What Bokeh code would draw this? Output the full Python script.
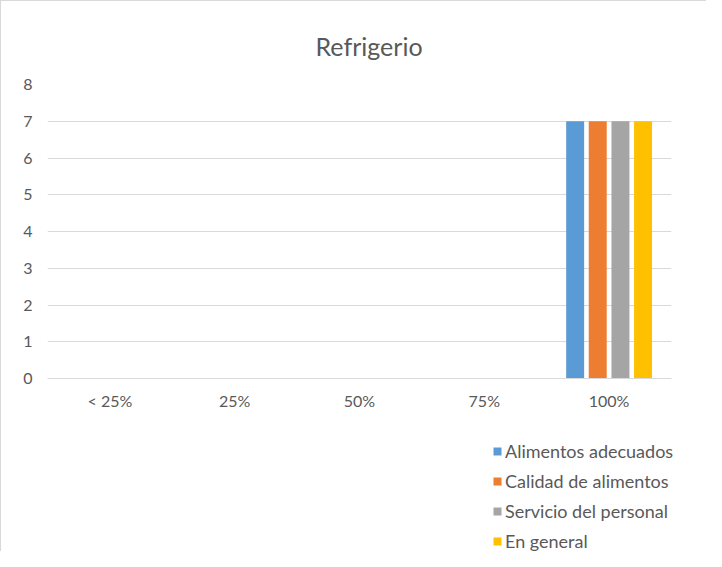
from bokeh.plotting import figure
from bokeh.models import ColumnDataSource, FactorRange, Range1d, Legend, LegendItem, FixedTicker
from bokeh.layouts import column
from bokeh.transform import dodge
from bokeh.embed import file_html
from bokeh.resources import INLINE

categories = ["< 25%", "25%", "50%", "75%", "100%"]
alimentos_adecuados = [0, 0, 0, 0, 7]
calidad_de_alimentos = [0, 0, 0, 0, 7]
servicio_del_personal = [0, 0, 0, 0, 7]
en_general = [0, 0, 0, 0, 7]
series_names = ["Alimentos adecuados", "Calidad de alimentos", "Servicio del personal", "En general"]
y_ticks = [0, 1, 2, 3, 4, 5, 6, 7, 8]

colors = ["#5B9BD5", "#ED7D31", "#A5A5A5", "#FFC000"]
FONT = "Lato"
TXT = "#595959"
GRID = "#d9d9d9"

source = ColumnDataSource(data=dict(
    cat=categories,
    s0=alimentos_adecuados,
    s1=calidad_de_alimentos,
    s2=servicio_del_personal,
    s3=en_general,
))
cols = ["s0", "s1", "s2", "s3"]

# main chart
p = figure(x_range=FactorRange(*categories), y_range=Range1d(0, 8),
           width=706, height=428, output_backend="svg", toolbar_location=None,
           min_border_left=46, min_border_right=36, min_border_top=83, min_border_bottom=51)
p.styles = {"border-left": "1px solid " + GRID, "border-top": "1px solid " + GRID}

p.title.text = "Refrigerio"
p.title.align = "left"
p.title.offset = 268
p.title.text_font = FONT
p.title.text_font_size = "25px"
p.title.text_font_style = "normal"
p.title.text_color = TXT
p.title.standoff = 48

p.outline_line_color = None
p.xgrid.grid_line_color = None
p.ygrid.grid_line_color = GRID
p.ygrid.grid_line_width = 1

p.yaxis.ticker = FixedTicker(ticks=y_ticks)
p.yaxis.axis_line_color = None
p.yaxis.major_tick_line_color = None
p.yaxis.minor_tick_line_color = None
p.yaxis.major_label_text_font = FONT
p.yaxis.major_label_text_font_size = "16px"
p.yaxis.major_label_text_color = TXT
p.yaxis.major_label_standoff = 9

p.xaxis.axis_line_color = GRID
p.xaxis.axis_line_width = 1
p.xaxis.major_tick_line_color = None
p.xaxis.minor_tick_line_color = None
p.xaxis.major_label_text_font = FONT
p.xaxis.major_label_text_font_size = "16px"
p.xaxis.major_label_text_color = TXT
p.xaxis.major_label_standoff = 6

offsets = [-0.272, -0.091, 0.091, 0.272]
for i, col in enumerate(cols):
    p.vbar(x=dodge("cat", offsets[i], range=p.x_range), top=col, width=0.144,
           source=source, fill_color=colors[i], line_color=None)

# legend strip below the chart
p2 = figure(x_range=FactorRange(*categories), y_range=Range1d(0, 8),
            width=706, height=123, output_backend="svg", toolbar_location=None,
            x_axis_location=None, y_axis_location=None,
            min_border_left=0, min_border_right=0, min_border_top=0, min_border_bottom=0)
if hasattr(p2, "frame_align"):
    p2.frame_align = False
p2.styles = {"border-left": "1px solid " + GRID}
p2.outline_line_color = None
p2.xgrid.grid_line_color = None
p2.ygrid.grid_line_color = None
legend_renderers = []
for i, col in enumerate(cols):
    r = p2.vbar(x="cat", top=col, width=0.144, source=source,
                fill_color=colors[i], line_color=None, visible=False)
    legend_renderers.append(r)

legend = Legend(items=[LegendItem(label=series_names[i], renderers=[legend_renderers[i]]) for i in range(4)],
                location=(491, -1), orientation="vertical")
legend.border_line_color = None
legend.background_fill_alpha = 0
legend.inactive_fill_alpha = 0
legend.padding = 0
legend.margin = 0
legend.spacing = 8
legend.glyph_width = 10
legend.glyph_height = 10
legend.label_height = 20
legend.label_standoff = 3
legend.label_text_font = FONT
legend.label_text_font_size = "18px"
legend.label_text_color = TXT
p2.add_layout(legend, "center")

layout = column(p, p2, spacing=0)
open("out.html", "w").write(file_html(layout, INLINE))
